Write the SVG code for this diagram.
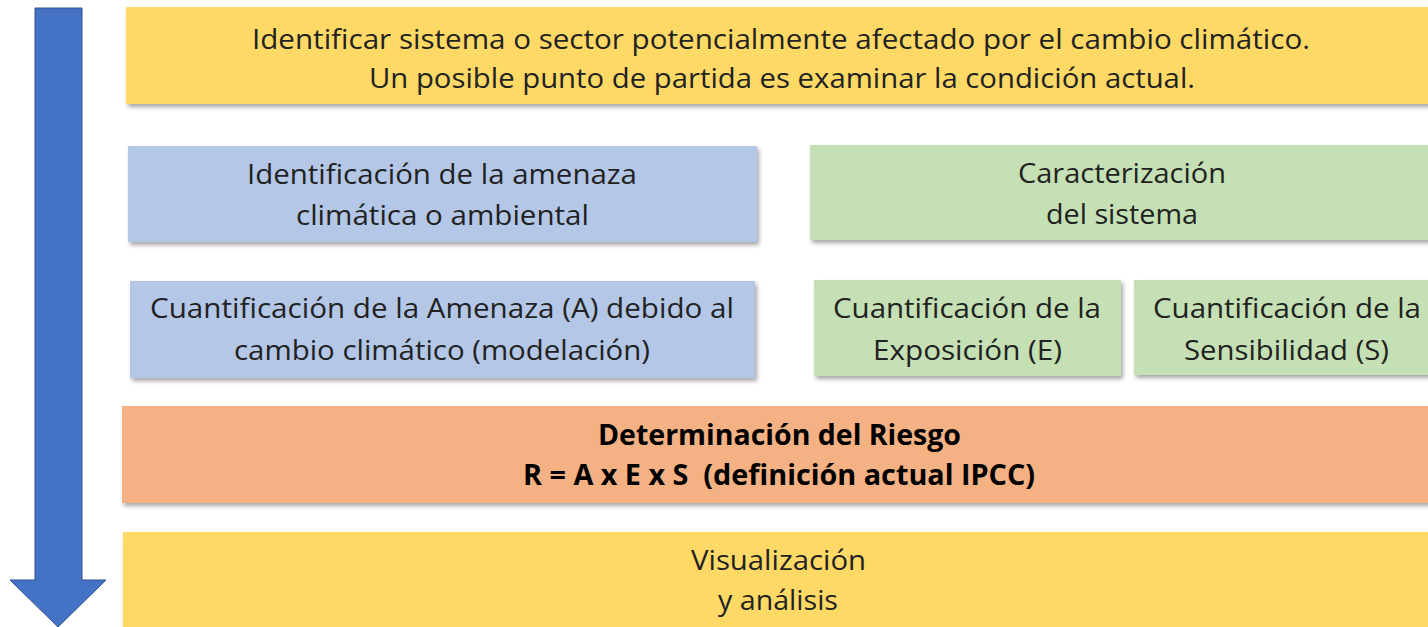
<svg xmlns="http://www.w3.org/2000/svg" width="1428" height="627" viewBox="0 0 1428 627">
<defs>
<filter id="sh" x="-5%" y="-10%" width="110%" height="130%">
<feDropShadow dx="2" dy="3" stdDeviation="2" flood-color="#000" flood-opacity="0.35"/>
</filter>
<style>
.t{font-family:"Open Sans","Noto Sans",sans-serif;font-size:28px;fill:#222;text-anchor:middle}
.b{font-family:"Open Sans","Noto Sans",sans-serif;font-size:28px;font-weight:bold;fill:#000;text-anchor:middle}
.y{fill:#FFD966;filter:url(#sh)}
.bl{fill:#B4C7E7;filter:url(#sh)}
.g{fill:#C5E0B4;filter:url(#sh)}
.o{fill:#F4B183;filter:url(#sh)}
</style>
</defs>
<rect width="1428" height="627" fill="#fff"/>
<g id="arrow">
<path d="M35,8 H82 V580 H106 L58,627 L10,580 H35 Z" fill="#4472C4" stroke="#2F528F" stroke-width="1"/>
</g>
<g id="n-identificar">
<rect class="y" x="126" y="7" width="1314" height="97"/>
<text class="t" x="781" y="49" textLength="1058" lengthAdjust="spacingAndGlyphs">Identificar sistema o sector potencialmente afectado por el cambio climático.</text>
<text class="t" x="782" y="88" textLength="826" lengthAdjust="spacingAndGlyphs">Un posible punto de partida es examinar la condición actual.</text>
</g>
<g id="n-amenaza">
<rect class="bl" x="128" y="146" width="629" height="96"/>
<text class="t" x="442" y="184" textLength="390" lengthAdjust="spacingAndGlyphs">Identificación de la amenaza</text>
<text class="t" x="442.5" y="225" textLength="293" lengthAdjust="spacingAndGlyphs">climática o ambiental</text>
</g>
<g id="n-caracterizacion">
<rect class="g" x="810" y="145" width="630" height="95"/>
<text class="t" x="1122" y="183" textLength="208" lengthAdjust="spacingAndGlyphs">Caracterización</text>
<text class="t" x="1122" y="224" textLength="152" lengthAdjust="spacingAndGlyphs">del sistema</text>
</g>
<g id="n-cuant-amenaza">
<rect class="bl" x="130" y="281" width="625" height="97"/>
<text class="t" x="442" y="318" textLength="584" lengthAdjust="spacingAndGlyphs">Cuantificación de la Amenaza (A) debido al</text>
<text class="t" x="442" y="360" textLength="416" lengthAdjust="spacingAndGlyphs">cambio climático (modelación)</text>
</g>
<g id="n-exposicion">
<rect class="g" x="814" y="280" width="307" height="96"/>
<text class="t" x="967" y="318" textLength="268" lengthAdjust="spacingAndGlyphs">Cuantificación de la</text>
<text class="t" x="967.5" y="360" textLength="189" lengthAdjust="spacingAndGlyphs">Exposición (E)</text>
</g>
<g id="n-sensibilidad">
<rect class="g" x="1134" y="280" width="306" height="95"/>
<text class="t" x="1287" y="318" textLength="268" lengthAdjust="spacingAndGlyphs">Cuantificación de la</text>
<text class="t" x="1286.5" y="360" textLength="205" lengthAdjust="spacingAndGlyphs">Sensibilidad (S)</text>
</g>
<g id="n-riesgo">
<rect class="o" x="122" y="406" width="1320" height="97"/>
<text class="b" x="779.5" y="445" textLength="363" lengthAdjust="spacingAndGlyphs">Determinación del Riesgo</text>
<text class="b" x="779" y="485" textLength="512" lengthAdjust="spacingAndGlyphs" xml:space="preserve">R = A x E x S  (definición actual IPCC)</text>
</g>
<g id="n-visualizacion">
<rect class="y" x="123" y="532" width="1320" height="100"/>
<text class="t" x="778.5" y="570" textLength="175" lengthAdjust="spacingAndGlyphs">Visualización</text>
<text class="t" x="778" y="610" textLength="120" lengthAdjust="spacingAndGlyphs">y análisis</text>
</g>
<g id="connectors"></g>
</svg>
